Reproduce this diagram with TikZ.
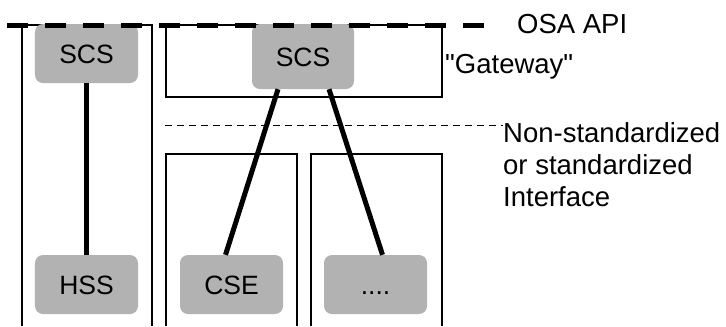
\documentclass[tikz,border=0pt]{standalone}
\usepackage{fontspec}
\setmainfont{Liberation Sans}[Ligatures=TeXOff]
\begin{document}
\begin{tikzpicture}[x=1bp,y=-1bp,
  ent/.style={fill=black!30,rounded corners=8bp,inner sep=0pt,text height=19bp,text depth=0bp,font=\fontsize{26.5bp}{31bp}\selectfont},
  frame/.style={draw=black,line width=1.2bp},
  link/.style={draw=black,line width=5bp},
  lbl/.style={anchor=west,inner sep=0pt,font=\fontsize{27.5bp}{32bp}\selectfont,align=left}]
\useasboundingbox (0,0) rectangle (726,326);
% frames
\draw[frame] (22,326) -- (22,25) -- (152,25) -- (152,326);
\draw[frame] (166,25) rectangle (442,97);
\draw[frame] (166,326) -- (166,154) -- (297,154) -- (297,326);
\draw[frame] (311,326) -- (311,154) -- (442,154) -- (442,326);
% entities
\node[ent,minimum width=103bp,minimum height=59bp] (scs1) at (86.5,53.5) {SCS};
\node[ent,minimum width=102bp,minimum height=65bp] (scs2) at (303,56.5) {SCS};
\node[ent,minimum width=103bp,minimum height=59bp] (hss) at (86.5,284.5) {HSS};
\node[ent,minimum width=103bp,minimum height=59bp] (cse) at (231.5,284.5) {CSE};
\node[ent,minimum width=103bp,minimum height=59bp] (dots) at (375.5,284.5) {....};
% links
\draw[link] (scs1.south) -- (hss.north);
\draw[link] ([xshift=-25bp]scs2.south) -- ([xshift=-6bp]cse.north);
\draw[link] ([xshift=26bp]scs2.south) -- ([xshift=7bp]dots.north);
% labels
\node[lbl] (osa) at (517,24) {OSA API};
\node[lbl] (gw) at (445,67) {"Gateway"};
\node[lbl,anchor=north west] (nsi) at (503,122) {Non-standardized\\or standardized\\Interface};
% interface lines
\coordinate (d0) at (7,25);
\coordinate (d1) at (484,25);
\coordinate (t0) at (165,125);
\draw[black,line width=0.9bp,dash pattern=on 7bp off 5bp] (t0) -- (nsi.north west |- t0);
\draw[black,line width=5bp,dash pattern=on 21bp off 17bp] (d0) -- (d1);
\end{tikzpicture}
\end{document}
